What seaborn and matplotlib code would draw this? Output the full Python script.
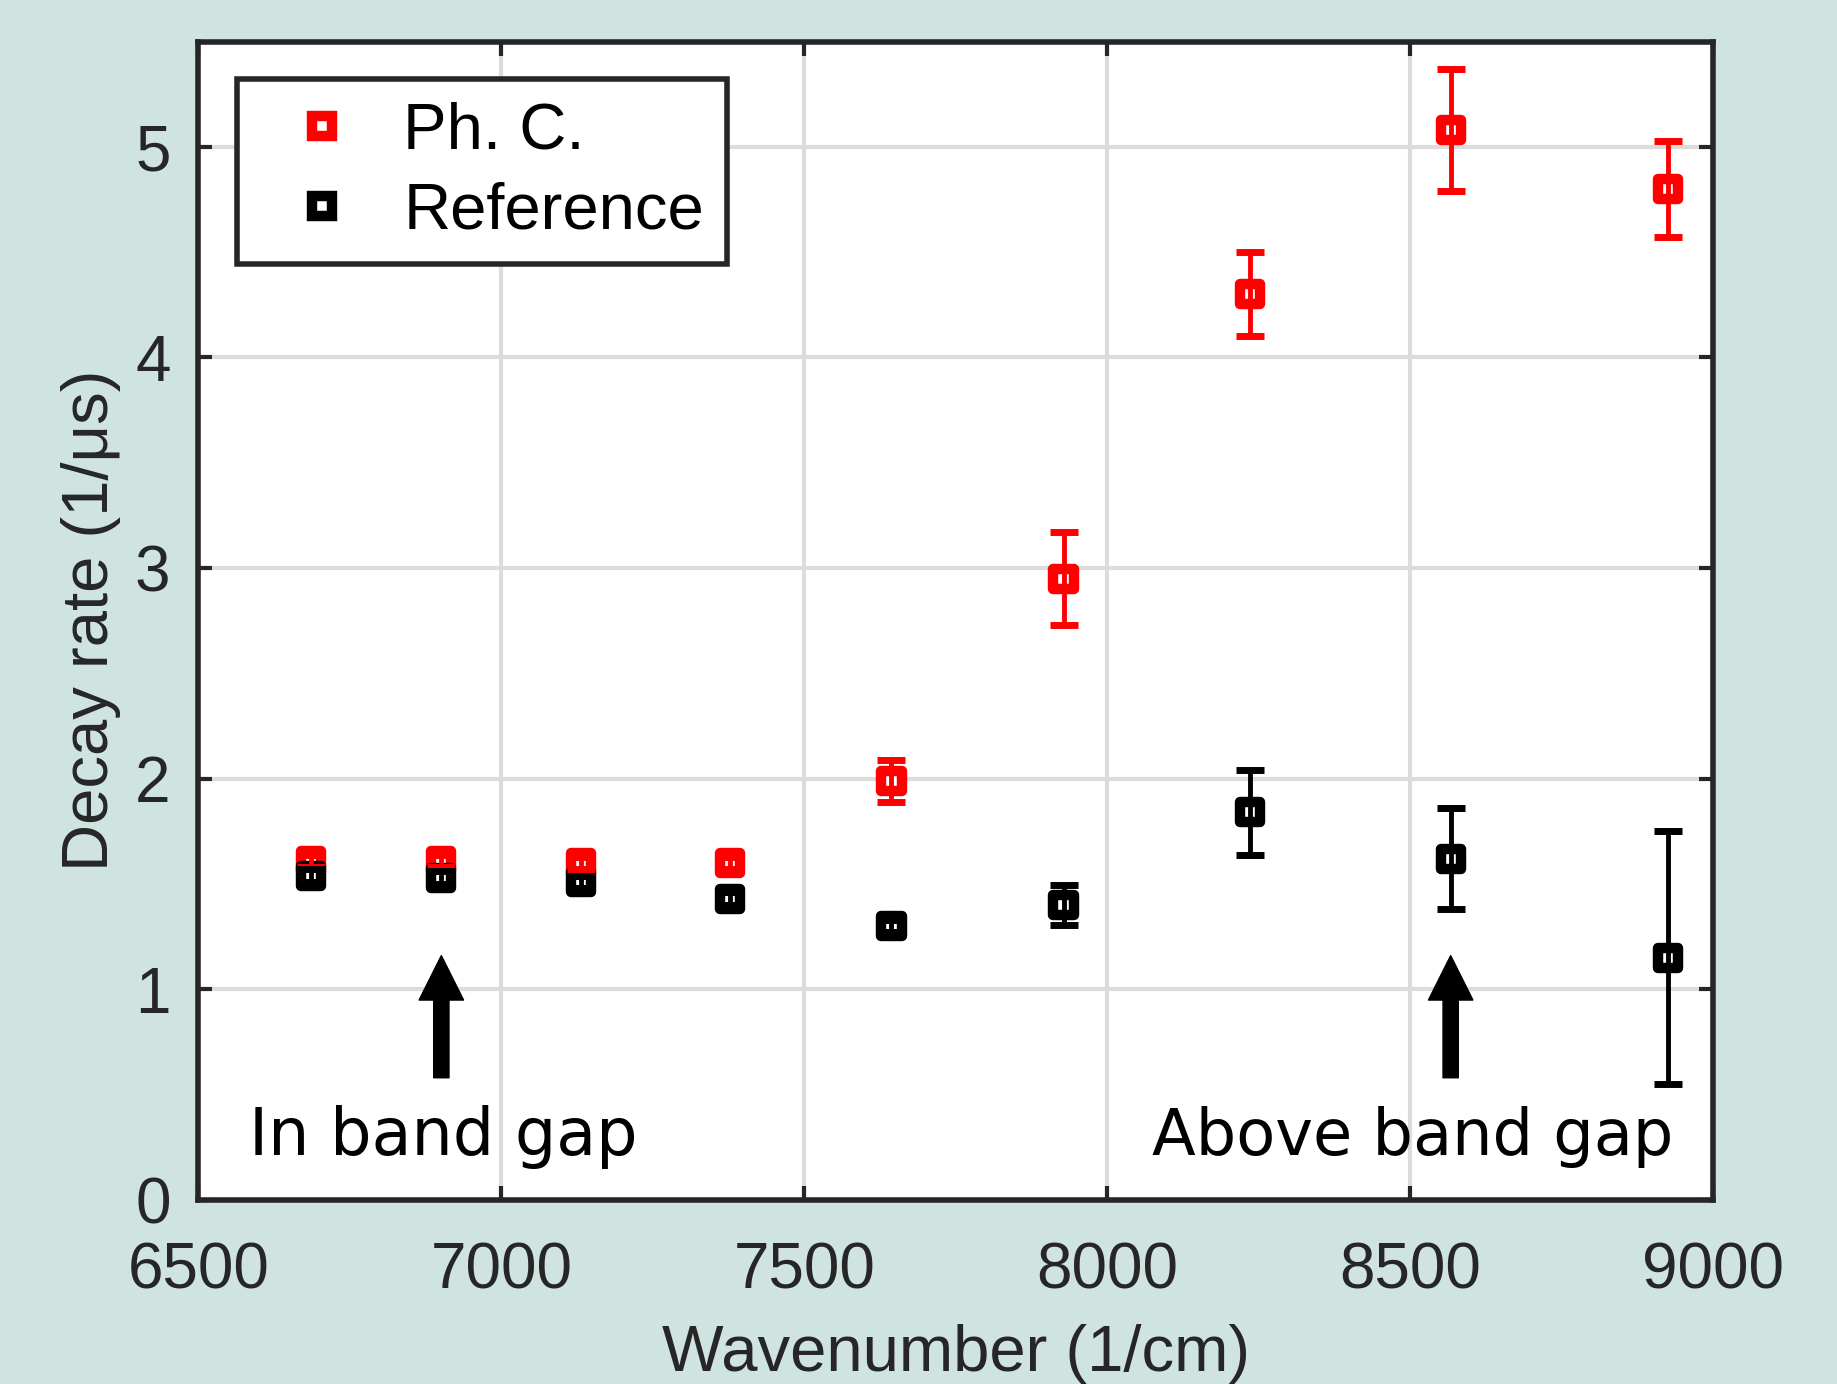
import numpy as np
import pandas as pd
import matplotlib
matplotlib.use("Agg")
import matplotlib.pyplot as plt
from matplotlib.lines import Line2D
import seaborn as sns

# wavenumbers (1/cm) shared by both series
wavenumber = [6686, 6901, 7131, 7378, 7644, 7928, 8236, 8567, 8925]
# decay rates (1/us)
phc_rate = [1.61, 1.61, 1.60, 1.60, 1.99, 2.95, 4.30, 5.08, 4.80]
phc_err = [0.03, 0.03, 0.03, 0.03, 0.10, 0.22, 0.20, 0.29, 0.23]
ref_rate = [1.54, 1.53, 1.51, 1.43, 1.30, 1.40, 1.84, 1.62, 1.15]
ref_err = [0.03, 0.03, 0.03, 0.03, 0.03, 0.095, 0.20, 0.24, 0.60]
series_names = ["Ph. C.", "Reference"]
series_colors = {"Ph. C.": "#ff0000", "Reference": "#000000"}
x_ticks = [6500, 7000, 7500, 8000, 8500, 9000]
y_ticks = [0, 1, 2, 3, 4, 5]
arrow_x = [6901, 8567]

df = pd.DataFrame({
    "wavenumber": wavenumber + wavenumber,
    "rate": phc_rate + ref_rate,
    "err": phc_err + ref_err,
    "series": [series_names[0]] * len(wavenumber) + [series_names[1]] * len(wavenumber),
})

sns.set_theme(style="whitegrid")
plt.rcParams["font.family"] = ["Liberation Sans", "DejaVu Sans"]
bg = "#cfe3e1"
spine_col = "#262626"

fig = plt.figure(figsize=(18.37, 13.84), dpi=100, facecolor=bg)
ax = fig.add_axes([0.108, 0.133, 0.8245, 0.837])
ax.set_facecolor("white")

# markers: hollow squares with thick edge
sns.scatterplot(data=df, x="wavenumber", y="rate", hue="series", palette=series_colors,
                marker="s", s=210, linewidth=7.5, legend=False, ax=ax, zorder=3)
for coll in ax.collections:
    fc = coll.get_facecolors()
    coll.set_edgecolors(fc)
    coll.set_facecolors("white")

# error bars on top so the line shows through the marker
for name in series_names:
    sub = df[df["series"] == name]
    ax.errorbar(sub["wavenumber"], sub["rate"], yerr=sub["err"], fmt="none",
                ecolor=series_colors[name], elinewidth=3.5, capsize=10, capthick=5, zorder=4)

ax.set_xlim(6500, 9000)
ax.set_ylim(0, 5.5)
ax.set_xticks(x_ticks)
ax.set_yticks(y_ticks)
ax.grid(True, color="#dcdcdc", linewidth=3.0)
ax.tick_params(axis="both", which="both", direction="in", length=10, width=3, color=spine_col,
               top=True, right=True, bottom=True, left=True, labelsize=46, labelcolor="#262626")
ax.tick_params(axis="x", pad=30)
ax.tick_params(axis="y", pad=20)
for sp in ax.spines.values():
    sp.set_visible(True)
    sp.set_color(spine_col)
    sp.set_linewidth(4)

ax.set_xlabel("Wavenumber (1/cm)", fontsize=47, color="#262626", labelpad=16)
ax.set_ylabel("Decay rate (1/\u03bcs)", fontsize=47, color="#262626", labelpad=10)

# arrows marking the two regions
for xa in arrow_x:
    ax.annotate("", xy=(xa, 1.16), xytext=(xa, 0.58),
                arrowprops=dict(facecolor="black", edgecolor="black", width=11, headwidth=32,
                                headlength=32, shrink=0))
ax.text(6583, 0.215, "In band gap", fontsize=47, family="DejaVu Sans", color="black",
        va="baseline", ha="left")
ax.text(8934, 0.215, "Above band gap", fontsize=46, family="DejaVu Sans", color="black",
        va="baseline", ha="right")

handles = [Line2D([], [], linestyle="none", marker="s", markersize=15, markeredgewidth=7.5,
                  markerfacecolor="white", markeredgecolor=series_colors[n]) for n in series_names]
leg = ax.legend(handles, series_names, loc="upper left", bbox_to_anchor=(0.0255, 0.9676),
                fontsize=47, frameon=True, fancybox=False, borderpad=0.35, handletextpad=0.3,
                labelspacing=0.3, handlelength=1.9, borderaxespad=0, labelcolor="black")
leg.get_frame().set_edgecolor(spine_col)
leg.get_frame().set_linewidth(4)
leg.get_frame().set_alpha(1)

fig.savefig("out.png", dpi=100, facecolor=bg)
